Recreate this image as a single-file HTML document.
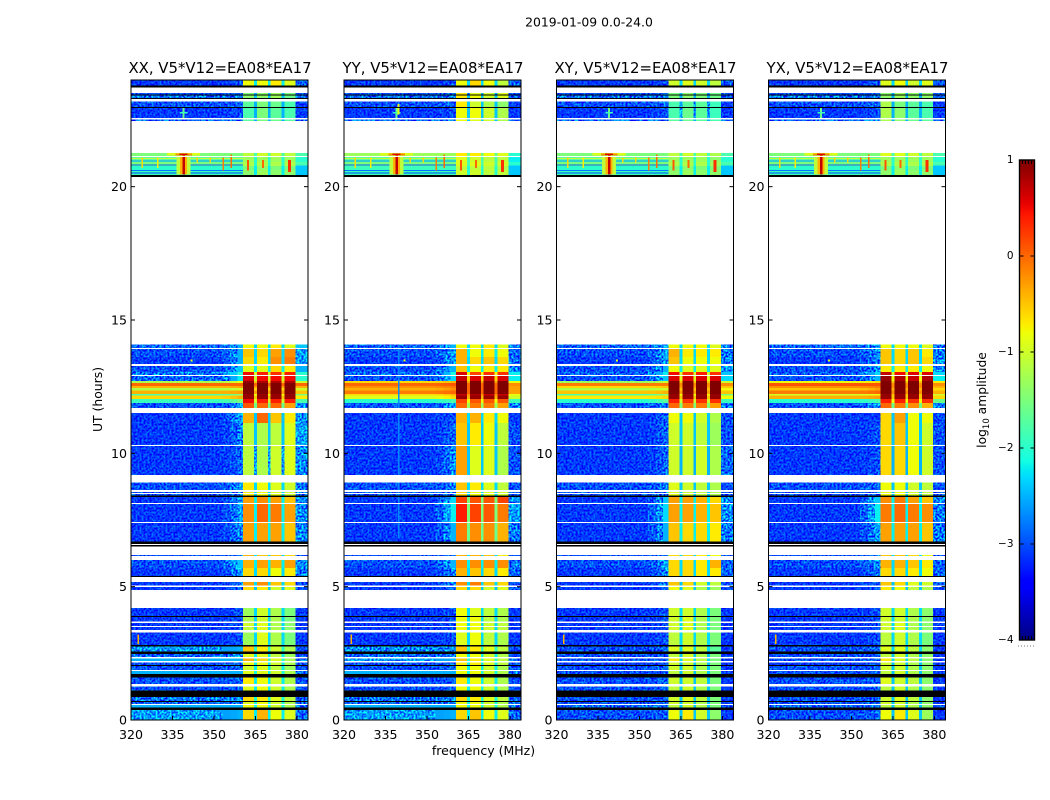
<!DOCTYPE html>
<html lang="en">
<head>
<meta charset="utf-8">
<title>2019-01-09 0.0-24.0</title>
<style>
html,body{margin:0;padding:0;background:#fff;width:1050px;height:800px;overflow:hidden}
svg{display:block}
text{font-family:"DejaVu Sans","Liberation Sans",sans-serif;fill:#000}
</style>
</head>
<body>
<svg id="chart" xmlns="http://www.w3.org/2000/svg" width="1050" height="800" viewBox="0 0 1050 800">
  <defs>
    <filter id="speckle" filterUnits="userSpaceOnUse" x="0" y="0" width="1050" height="800" color-interpolation-filters="sRGB">
      <feTurbulence type="fractalNoise" baseFrequency="0.5" numOctaves="1" seed="4" result="n"/>
      <feColorMatrix in="n" type="matrix" values="1 0 0 0 0  1 0 0 0 0  1 0 0 0 0  0 0 0 0 1" result="g"/>
      <feComponentTransfer in="g" result="c">
        <feFuncR type="linear" slope="3" intercept="-1"/>
        <feFuncG type="linear" slope="3" intercept="-1"/>
        <feFuncB type="linear" slope="3" intercept="-1"/>
      </feComponentTransfer>
      <feBlend in="c" in2="SourceGraphic" mode="overlay" result="b"/>
      <feComposite in="b" in2="SourceAlpha" operator="in"/>
    </filter>
  </defs>
  <text x="589" y="26.5" font-size="12.4" text-anchor="middle">2019-01-09 0.0-24.0</text>
  <text x="483.5" y="755" font-size="12.5" text-anchor="middle">frequency (MHz)</text>
  <text transform="translate(102,399.5) rotate(-90)" font-size="12.4" text-anchor="middle">UT (hours)</text>
  <text transform="translate(986,400) rotate(-90)" font-size="12.3" text-anchor="middle">log<tspan font-size="8.5" dy="3">10</tspan><tspan dy="-3"> amplitude</tspan></text>
  <g id="panels"></g>
  <g id="colorbar"></g>
</svg>
<script>
// Frequency columns (MHz) of the coarse spectrogram grid
const columnEdges = [[320,353],[353,356],[356,358.5],[358.5,360.5],[360.5,364.5],[364.5,365.5],[365.5,369.5],[369.5,370.5],[370.5,374.5],[374.5,375.5],[375.5,379.5],[379.5,384]];
// Time rows (UT hours)
const rowEnd =   [23.98,23.79,23.51,23.45,23.42,23.32,23.19,22.99,22.95,22.52,21.26,21.11,20.93,20.78,20.63,20.44,14.09,13.91,13.61,13.28,13.05,12.90,12.71,12.64,12.53,12.45,12.36,12.23,12.17,12.04,11.89,11.51,11.14,10.28,8.91,8.55,8.48,8.41,8.36,8.10,7.39,6.69,6.56,6.19,6.00,5.70,5.40,5.18,4.99,4.20,3.90,3.86,3.64,3.49,3.28,2.81,2.75,2.56,2.48,2.31,2.15,2.06,2.03,1.84,1.73,1.59,1.25,1.10,0.87,0.72,0.68,0.56,0.47,0.38];
const rowStart = [23.79,23.72,23.45,23.42,23.32,23.29,22.99,22.95,22.58,22.46,21.15,20.93,20.78,20.63,20.44,20.36,13.95,13.61,13.35,13.05,12.94,12.71,12.64,12.53,12.45,12.36,12.23,12.17,12.04,11.89,11.70,11.14,10.31,9.19,8.63,8.51,8.41,8.36,8.14,7.43,6.69,6.60,6.51,6.15,5.70,5.40,5.36,5.04,4.88,3.90,3.86,3.69,3.53,3.38,2.81,2.75,2.56,2.48,2.36,2.21,2.06,2.03,1.88,1.73,1.59,1.35,1.10,0.87,0.72,0.68,0.60,0.47,0.38,0.00];
// Log10 amplitude x10 per row: background, shoulder, band A, gap, band B, band C, band D, right edge. null = flagged (black).
const xxRows = [
[-31,-30,-8,-22,-8,-7,-9,-29],null,[-30,-29,-15,-25,-14,-13,-15,-30],null,[-28,-28,-14,-24,-14,-13,-16,-29],null,[-30,-29,-17,-25,-15,-16,-18,-31],null,[-31,-30,-18,-25,-15,-17,-18,-31],[-29,-28,-17,-25,-15,-16,-17,-29],
[-15,-15,-11,-18,-10,-10,-11,-18],[-17,-17,-13,-20,-13,-13,-13,-20],[-15,-15,-12,-20,-12,-12,-12,-18],[-20,-20,-15,-22,-14,-15,-15,-22],[-19,-19,-14,-22,-13,-14,-14,-24],null,
[-29,-25,-8,-23,-8,-7,-9,-24],[-30,-25,-5,-23,-6,-3,-2,-26],[-31,-25,-6,-23,-7,-2,-1,-26],[-30,-24,-9,-22,-9,-6,-7,-25],[-28,-20,5,-10,4,3,4,-20],[-29,-22,6,-10,5,5,5,-20],[-12,-8,9,-5,8,8,8,-10],[0,0,10,0,10,10,10,0],[-4,-3,10,-3,10,10,10,-4],[-12,-10,10,-6,10,10,10,-10],[-4,-3,10,-3,10,10,10,-5],[-18,-14,9,-8,9,9,9,-15],[-6,-4,9,-5,9,9,9,-7],[-19,-15,5,-10,4,4,4,-18],[-30,-27,1,-16,0,0,-3,-27],
[-31,-26,-4,-24,0,-5,-7,-27],[-31,-28,-11,-24,-12,-11,-9,-26],[-31,-29,-11,-26,-12,-10,-9,-27],[-30,-27,-7,-23,-8,-9,-10,-28],[-30,-28,-7,-23,-8,-9,-10,-28],[-30,-28,-7,-23,-8,-9,-10,-28],null,[-31,-26,-3,-22,-2,-3,-5,-27],[-31,-26,-2,-22,0,-1,-3,-27],[-31,-27,-3,-22,-3,-3,-5,-27],null,null,
[-30,-28,-4,-23,-5,-5,-6,-30],[-30,-24,-4,-22,-3,-4,-3,-27],[-31,-26,-6,-23,-6,-8,-7,-28],null,[-31,-28,-3,-23,-2,-5,-6,-30],[-31,-29,-6,-24,-7,-10,-9,-30],[-31,-30,-13,-23,-10,-12,-15,-31],null,[-31,-30,-12,-23,-10,-12,-15,-31],[-31,-30,-10,-23,-9,-12,-14,-31],[-31,-30,-11,-23,-9,-12,-14,-31],[-31,-30,-13,-23,-9,-12,-15,-31],null,[-26,-25,-5,-20,-7,-10,-12,-30],null,[-29,-27,-9,-22,-9,-11,-13,-30],[-25,-25,-4,-20,-6,-9,-12,-29],[-30,-29,-8,-22,-8,-10,-12,-30],null,[-30,-29,-10,-22,-9,-11,-13,-30],[-25,-25,-9,-21,-9,-10,-12,-29],null,[-30,-29,-7,-22,-8,-10,-12,-30],[-30,-29,-9,-22,-8,-10,-12,-30],null,[-28,-27,-6,-21,-7,-9,-11,-29],null,[-29,-28,-9,-21,-8,-10,-12,-29],[-25,-25,-8,-21,-8,-10,-12,-28],null,[-26,-25,-6,-22,-4,-8,-9,-29]
];
const yyRows = [
[-31,-30,-8,-23,-6,-8,-11,-29],null,[-30,-29,-7,-26,-9,-10,-9,-30],null,[-28,-28,-7,-24,-8,-10,-9,-29],null,[-30,-29,-7,-24,-10,-12,-14,-31],null,[-31,-30,-8,-24,-8,-10,-12,-31],[-29,-28,-8,-24,-9,-10,-12,-29],
[-13,-13,-7,-16,-7,-8,-9,-20],[-17,-17,-9,-18,-10,-11,-11,-22],[-15,-15,-9,-18,-9,-10,-10,-20],[-19,-19,-11,-20,-11,-11,-12,-23],[-19,-19,-10,-20,-10,-11,-11,-25],null,
[-29,-25,-8,-23,-8,-7,-9,-28],[-30,-26,-4,-22,-8,-7,-8,-29],[-31,-26,-4,-23,-6,-5,-6,-28],[-30,-25,-5,-22,-8,-7,-7,-27],[-29,-21,6,-8,2,3,3,-22],[-30,-23,7,-6,6,7,6,-22],[-6,-4,10,-3,10,10,10,-8],[0,1,10,0,10,10,10,-2],[-2,-1,10,0,10,10,10,-3],[-4,-2,10,0,10,10,10,-3],[-1,0,10,0,10,10,10,-3],[-6,-4,7,-2,8,7,7,-8],[-9,-6,9,-4,9,9,9,-10],[-20,-18,2,-8,1,1,1,-19],[-30,-26,0,-13,-1,-1,-3,-27],
[-31,-30,-4,-23,-4,-7,-8,-31],[-31,-29,-5,-24,-7,-8,-11,-30],[-31,-27,-3,-24,-9,-9,-12,-30],[-30,-28,-5,-23,-7,-9,-11,-30],[-30,-28,-6,-23,-8,-9,-10,-30],[-30,-28,-6,-23,-8,-9,-10,-30],null,[-31,-23,2,-15,1,1,2,-27],[-31,-22,4,-15,2,1,-1,-26],[-31,-25,-1,-16,-2,-2,-4,-28],null,null,
[-30,-28,-4,-23,-4,-5,-7,-30],[-30,-25,-2,-22,-2,-2,-2,-28],[-31,-27,-4,-23,-5,-6,-7,-29],null,[-31,-28,-2,-23,-1,-5,-6,-30],[-31,-29,-6,-24,-6,-10,-9,-30],[-31,-30,-8,-23,-9,-11,-12,-31],null,[-31,-30,-8,-23,-8,-11,-12,-31],[-31,-30,-8,-23,-8,-10,-11,-31],[-31,-30,-8,-23,-8,-10,-11,-31],[-31,-30,-9,-23,-8,-11,-12,-31],null,[-27,-26,-5,-20,-7,-9,-11,-30],null,[-29,-28,-8,-22,-8,-10,-12,-30],[-26,-25,-5,-20,-7,-9,-11,-29],[-30,-29,-7,-22,-7,-9,-11,-30],null,[-30,-29,-8,-22,-8,-10,-12,-30],[-25,-25,-8,-21,-8,-10,-12,-28],null,[-30,-29,-7,-22,-8,-10,-12,-30],[-30,-29,-8,-22,-8,-10,-12,-30],null,[-28,-27,-6,-21,-7,-9,-11,-29],null,[-29,-28,-8,-21,-8,-10,-12,-29],[-25,-25,-8,-21,-8,-10,-12,-28],null,[-26,-25,-6,-22,-5,-8,-9,-29]
];
const xyRows = [
[-31,-30,-10,-23,-9,-10,-11,-29],null,[-30,-29,-15,-26,-14,-15,-16,-30],null,[-28,-28,-15,-25,-14,-15,-16,-29],null,[-30,-29,-18,-26,-17,-17,-19,-31],null,[-31,-30,-18,-26,-16,-17,-19,-31],[-29,-28,-17,-25,-16,-17,-18,-29],
[-15,-15,-11,-18,-10,-11,-12,-18],[-17,-17,-13,-20,-13,-13,-14,-20],[-15,-15,-12,-20,-12,-12,-13,-18],[-20,-20,-15,-22,-14,-15,-15,-22],[-19,-19,-14,-22,-13,-14,-14,-24],null,
[-29,-26,-8,-23,-8,-8,-9,-28],[-30,-26,-4,-23,-7,-7,-7,-28],[-31,-26,-5,-23,-8,-8,-8,-28],[-30,-25,-8,-22,-9,-9,-9,-27],[-29,-22,5,-10,3,4,3,-24],[-30,-24,6,-9,6,6,6,-23],[-13,-10,10,-5,10,10,10,-10],[-1,-1,10,-2,10,10,10,-2],[-6,-5,10,-3,10,10,10,-5],[-12,-10,10,-5,10,10,10,-8],[-5,-4,10,-3,10,10,10,-5],[-18,-14,9,-8,9,9,9,-15],[-7,-6,9,-5,9,9,9,-8],[-20,-17,4,-10,3,3,3,-19],[-30,-27,0,-15,-1,-1,-3,-28],
[-31,-29,-8,-24,-8,-10,-12,-30],[-31,-29,-10,-24,-10,-11,-13,-30],[-31,-29,-10,-25,-10,-10,-12,-29],[-30,-28,-9,-24,-10,-11,-12,-30],[-30,-28,-9,-24,-10,-11,-12,-30],[-30,-28,-9,-24,-10,-11,-12,-30],null,[-31,-24,-3,-22,-3,-4,-6,-27],[-31,-23,-3,-22,-3,-4,-5,-27],[-31,-25,-5,-22,-6,-6,-7,-28],null,null,
[-30,-28,-6,-23,-6,-7,-8,-30],[-30,-26,-6,-23,-6,-7,-4,-29],[-31,-27,-6,-23,-6,-7,-7,-29],null,[-31,-28,-5,-24,-6,-10,-11,-30],[-31,-29,-8,-24,-9,-12,-13,-30],[-31,-30,-10,-23,-10,-12,-15,-31],null,[-31,-30,-10,-23,-9,-12,-15,-31],[-31,-30,-10,-23,-9,-12,-15,-31],[-31,-30,-10,-23,-9,-12,-15,-31],[-31,-30,-11,-23,-10,-12,-15,-31],null,[-30,-29,-9,-23,-9,-11,-17,-31],null,[-30,-30,-11,-24,-10,-12,-15,-31],[-30,-29,-7,-23,-9,-11,-15,-31],[-31,-30,-10,-24,-10,-12,-15,-31],null,[-30,-29,-10,-24,-10,-12,-15,-31],[-30,-29,-11,-24,-10,-12,-15,-31],null,[-30,-29,-10,-24,-10,-11,-15,-31],[-30,-29,-11,-24,-10,-12,-15,-31],null,[-30,-29,-10,-24,-9,-11,-15,-31],null,[-30,-29,-10,-24,-10,-12,-15,-31],[-29,-28,-11,-24,-10,-12,-15,-30],null,[-30,-29,-8,-24,-7,-10,-14,-31]
];
const yxRows = [
[-31,-30,-9,-23,-8,-10,-9,-29],null,[-30,-29,-14,-25,-13,-14,-14,-30],null,[-28,-28,-14,-25,-13,-14,-14,-29],null,[-30,-29,-12,-25,-15,-17,-18,-31],null,[-31,-30,-12,-25,-14,-17,-18,-31],[-29,-28,-12,-25,-14,-16,-17,-29],
[-15,-15,-9,-18,-9,-10,-11,-18],[-17,-17,-13,-20,-13,-13,-13,-20],[-15,-15,-12,-20,-12,-12,-12,-18],[-20,-20,-15,-22,-14,-15,-15,-22],[-19,-19,-14,-22,-13,-14,-14,-24],null,
[-29,-26,-8,-23,-8,-8,-9,-28],[-30,-27,-5,-23,-6,-5,-7,-28],[-31,-27,-5,-23,-6,-5,-6,-27],[-30,-27,-7,-22,-7,-7,-8,-27],[-29,-23,7,-10,5,6,6,-23],[-30,-25,9,-8,8,7,8,-22],[-8,-6,10,-5,10,10,10,-7],[1,1,10,-2,10,10,10,-2],[-2,-1,10,-2,10,10,10,-4],[-5,-3,10,-4,10,10,10,-6],[-1,0,10,-2,10,10,10,-4],[-10,-8,9,-5,9,9,9,-10],[-4,-3,9,-5,9,9,9,-6],[-20,-18,4,-8,4,3,3,-16],[-30,-27,0,-16,-1,-2,-4,-28],
[-31,-31,-6,-24,-3,-8,-8,-30],[-31,-30,-6,-24,-5,-8,-10,-30],[-31,-30,-6,-25,-6,-8,-10,-30],[-30,-29,-8,-24,-8,-10,-11,-30],[-30,-29,-8,-24,-8,-10,-11,-30],[-30,-29,-8,-24,-8,-10,-11,-30],null,[-31,-24,-2,-22,-1,-3,-5,-27],[-31,-22,-1,-22,0,-1,-2,-28],[-31,-26,-3,-22,-3,-3,-5,-28],null,null,
[-30,-28,-5,-23,-5,-6,-8,-30],[-30,-27,-4,-23,-4,-5,-7,-29],[-31,-28,-6,-23,-6,-7,-8,-29],null,[-31,-29,-5,-24,-6,-9,-10,-30],[-31,-30,-7,-24,-8,-11,-12,-30],[-31,-30,-10,-23,-10,-12,-14,-31],null,[-31,-30,-10,-23,-10,-12,-14,-31],[-31,-30,-10,-23,-9,-12,-14,-31],[-31,-30,-10,-23,-9,-12,-14,-31],[-31,-30,-11,-23,-10,-12,-15,-31],null,[-30,-29,-9,-23,-9,-11,-14,-31],null,[-30,-30,-11,-24,-10,-12,-14,-31],[-30,-29,-7,-23,-9,-11,-14,-31],[-31,-30,-10,-24,-10,-12,-14,-31],null,[-30,-29,-10,-24,-10,-12,-14,-31],[-30,-29,-11,-24,-10,-12,-14,-31],null,[-30,-29,-9,-24,-10,-11,-14,-31],[-30,-29,-11,-24,-10,-12,-14,-31],null,[-30,-29,-10,-24,-9,-11,-14,-31],null,[-30,-29,-10,-24,-10,-12,-14,-31],[-29,-28,-11,-24,-10,-12,-14,-30],null,[-30,-29,-8,-24,-7,-9,-13,-31]
];
// Narrow features: [start MHz, end MHz, start hour, end hour, log amplitude x10]
const sharedRfi = [
[320,360.5,20.94,20.98,-26],[320,360.5,20.8,20.83,-29],[320,360.5,20.58,20.62,-28],[320,360.5,20.5,20.53,-30],[320,360.5,21.03,21.07,-11],[379.5,384,20.44,20.8,-24],
[336.4,341.6,20.46,21.12,-11],[337.7,340.3,20.46,21.12,-4],[338.7,339.6,20.45,21.25,7],[333,345,21.16,21.26,-9],[336,342,21.17,21.25,-2],[337.6,340.4,21.18,21.24,6],
[338.7,339.4,22.58,22.98,-16],[337.7,340.4,22.74,22.8,-19],
[323.8,324.4,20.7,21.1,-6],[329.4,330,20.7,21.1,-7],[343.6,344.2,20.9,21.1,-6],[348.3,348.9,20.9,21.1,-6],[353,353.6,20.6,21.1,-1],[356,356.6,20.7,21.2,0],[362,362.7,20.6,21,1],[367.4,368,20.7,21,0],[376.8,377.8,20.55,21,3],
[341.5,342.2,13.45,13.52,-9],[322.4,322.9,2.85,3.2,-4]
];
const yyRfi = [[339.6,340,6.8,14.05,-27],[339.4,340,22.7,23.1,-8]];
const panelNames = ['xx','yy','xy','yx'];
const panelTitles = ['XX, V5*V12=EA08*EA17','YY, V5*V12=EA08*EA17','XY, V5*V12=EA08*EA17','YX, V5*V12=EA08*EA17'];
const panelRows = [xxRows,yyRows,xyRows,yxRows];
const panelRfi = [sharedRfi,sharedRfi.concat(yyRfi),sharedRfi,sharedRfi];
const xTicks = [320,335,350,365,380];
const yTicks = [0,5,10,15,20];
const cbTicks = [-4,-3,-2,-1,0,1];
const cbLabels = ['\u22124','\u22123','\u22122','\u22121','0','1'];

const SVGNS = 'http://www.w3.org/2000/svg';
const panelLeft = [131,344,556.5,768.5];
const panelW = 177, plotTop = 80, plotH = 640;
const F0 = 320, F1 = 384, T1 = 24, VMIN = -4, VMAX = 1;
function xScale(left,f){return left + (f-F0)/(F1-F0)*panelW;}
function yScale(t){return plotTop + (T1-t)/T1*plotH;}
function interp(pts,x){
  for(let i=1;i<pts.length;i++){
    if(x<=pts[i][0]){const a=pts[i-1],b=pts[i];return a[1]+(b[1]-a[1])*(x-a[0])/(b[0]-a[0]);}
  }
  return pts[pts.length-1][1];
}
function jet(v){
  const x=Math.max(0,Math.min(1,(v-VMIN)/(VMAX-VMIN)));
  const r=interp([[0,0],[.35,0],[.66,1],[.89,1],[1,.5]],x);
  const g=interp([[0,0],[.125,0],[.375,1],[.64,1],[.91,0],[1,0]],x);
  const b=interp([[0,.5],[.11,1],[.34,1],[.65,0],[1,0]],x);
  return 'rgb('+Math.round(r*255)+','+Math.round(g*255)+','+Math.round(b*255)+')';
}
function mk(tag,parent,attrs){
  const el=document.createElementNS(SVGNS,tag);
  for(const k in attrs){el.setAttribute(k,attrs[k]);}
  parent.appendChild(el);
  return el;
}
function columnValue(row,k){
  const sh=[0.2,0.55,1];
  if(k===0) return row[0];
  if(k>=1&&k<=3) return row[0]+(row[1]-row[0])*sh[k-1];
  if(k===4) return row[2];
  if(k===5||k===7||k===9) return row[3];
  if(k===6) return row[4];
  if(k===8) return row[5];
  if(k===10) return row[6];
  return row[7];
}
const panelsRoot=document.getElementById('panels');
panelNames.forEach(function(name,p){
  const left=panelLeft[p];
  const g=mk('g',panelsRoot,{});
  
  
  const noisy=mk('g',g,{filter:'url(#speckle)','shape-rendering':'crispEdges'});
  
  
  const smooth=mk('g',g,{'shape-rendering':'crispEdges'});
  
  
  panelRows[p].forEach(function(row,r){
    const y0=yScale(rowEnd[r]),y1=yScale(rowStart[r]);
    if(row===null){
      const bar=mk('rect',smooth,{x:xScale(left,F0),y:y0,width:xScale(left,F1)-xScale(left,F0),height:y1-y0,fill:'#000'});
      
      
      return;
    }
    columnEdges.forEach(function(c,k){
      const v=columnValue(row,k);
      const cell=mk('rect',v<=-26?noisy:smooth,{x:xScale(left,c[0]),y:y0,width:xScale(left,c[1])-xScale(left,c[0]),height:y1-y0,fill:jet(v/10)});
      
      
    });
  });
  const rfiG=mk('g',g,{'shape-rendering':'crispEdges'});
  
  
  panelRfi[p].forEach(function(s){
    panelRows[p].forEach(function(row,r){
      if(row===null) return;
      const t0=Math.max(s[2],rowStart[r]),t1=Math.min(s[3],rowEnd[r]);
      if(t1<=t0) return;
      const m=mk('rect',rfiG,{x:xScale(left,s[0]),y:yScale(t1),width:xScale(left,s[1])-xScale(left,s[0]),height:yScale(t0)-yScale(t1),fill:jet(s[4]/10)});
      
      
    });
  });
  const frame=mk('rect',g,{x:left,y:plotTop,width:panelW,height:plotH,fill:'none',stroke:'#000','stroke-width':1});
  
  
  const title=mk('text',g,{x:left+panelW/2+0.5,y:73,'font-size':'14.9','text-anchor':'middle'});
  
  
  title.textContent=panelTitles[p];
  xTicks.forEach(function(f,i){
    const x=xScale(left,f);
    const tk=mk('line',g,{x1:x,x2:x,y1:plotTop+plotH,y2:plotTop+plotH-4,stroke:'#000','stroke-width':1});
    
    
    const lb=mk('text',g,{x:x,y:plotTop+plotH+19,'font-size':'12.6','text-anchor':'middle'});
    
    
    lb.textContent=String(xTicks[i]);
  });
  yTicks.forEach(function(t,i){
    const y=yScale(t);
    const a=mk('line',g,{x1:left,x2:left+4,y1:y,y2:y,stroke:'#000','stroke-width':1});
    
    
    const b=mk('line',g,{x1:left+panelW,x2:left+panelW-4,y1:y,y2:y,stroke:'#000','stroke-width':1});
    
    
    const lb=mk('text',g,{x:left-4,y:y+4.5,'font-size':'12.6','text-anchor':'end'});
    
    
    lb.textContent=String(yTicks[i]);
  });
});
// Colorbar
const cb=document.getElementById('colorbar');
const cbX=1019.5,cbW=15,cbTop=160,cbH=480;
function cbY(v){return cbTop+(VMAX-v)/(VMAX-VMIN)*cbH;}
const cbSteps=256;
for(let i=0;i<cbSteps;i++){
  const v0=VMIN+(VMAX-VMIN)*i/cbSteps,v1=VMIN+(VMAX-VMIN)*(i+1)/cbSteps;
  const s=mk('rect',cb,{x:cbX,y:cbY(v1),width:cbW,height:cbY(v0)-cbY(v1)+0.4,fill:jet((v0+v1)/2),'shape-rendering':'crispEdges'});
  
  
}
const cbFrame=mk('rect',cb,{x:cbX,y:cbTop,width:cbW,height:cbH,fill:'none',stroke:'#000','stroke-width':1.4});


cbTicks.forEach(function(v,i){
  const y=cbY(v);
  const a=mk('line',cb,{x1:cbX,x2:cbX+4,y1:y,y2:y,stroke:'#000','stroke-width':1});
  
  
  const b=mk('line',cb,{x1:cbX+cbW,x2:cbX+cbW-4,y1:y,y2:y,stroke:'#000','stroke-width':1});
  
  
  const lb=mk('text',cb,{x:cbX-6,y:y+3,'font-size':'10.5','text-anchor':'end'});
  
  
  lb.textContent=cbLabels[i];
});
[0.2,0.4,0.6,0.8].forEach(function(fr){
  const x=cbX+cbW*fr;
  const t1=mk('line',cb,{x1:x,x2:x,y1:cbTop,y2:cbTop+4,stroke:'#000','stroke-width':1});
  
  
  const t2=mk('line',cb,{x1:x,x2:x,y1:cbTop+cbH,y2:cbTop+cbH-4,stroke:'#000','stroke-width':1});
  
  
});
const dots=mk('line',cb,{x1:1018,x2:1035,y1:646,y2:646,stroke:'#777','stroke-width':1,'stroke-dasharray':'1 2'});


</script>
</body>
</html>
